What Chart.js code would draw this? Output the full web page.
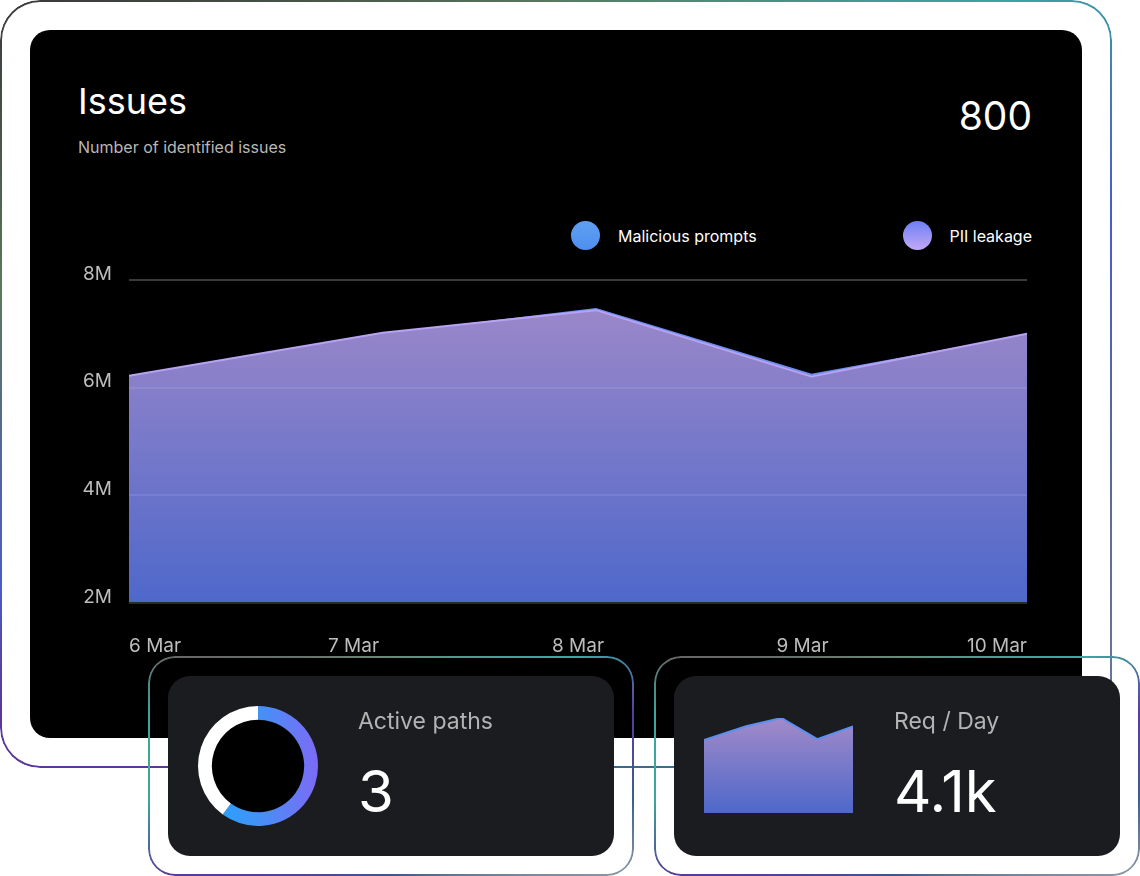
<!DOCTYPE html>
<html>
<head>
<meta charset="utf-8">
<script src="https://cdn.jsdelivr.net/npm/chart.js@4.4.1/dist/chart.umd.min.js"></script>
<style>
  html, body { margin: 0; padding: 0; background: #fff; }
  body { width: 1140px; height: 876px; position: relative; overflow: hidden; font-family: Inter, "Noto Sans", sans-serif; }
  .abs { position: absolute; }
  .gborder {
    position: absolute; box-sizing: border-box; border: 2px solid transparent;
    -webkit-mask: linear-gradient(#000 0 0) padding-box, linear-gradient(#000 0 0);
    -webkit-mask-composite: xor; mask-composite: exclude;
  }
  .frame {
    left: 0px; top: 0px; width: 1112px; height: 768px; border-radius: 40px;
    background: conic-gradient(from 0deg, #5a7a60 0deg, #3aa59e 50deg, #4a5cc8 72deg, #5a6a96 100deg,
      #6a7a94 125deg, #3a6a8a 170deg, #5a3a98 225deg, #5a3a98 240deg, #4a5cc8 250deg,
      #5a7a5a 280deg, #3a3a3a 305deg, #4a5a4a 330deg, #5a7a60 360deg) border-box;
  }
  .panel { left: 30px; top: 30px; width: 1052px; height: 708px; background: #000; border-radius: 20px; }
  .cardline {
    width: 486px; height: 220px; border-radius: 27px;
    background: conic-gradient(from 0deg, #6a8a78 0deg, #3aa8a0 60deg, #5a3aa0 78deg, #3a6090 98deg,
      #8a96a4 114deg, #3a5a8a 180deg, #5a3a98 244deg, #3aa89c 262deg, #3aa89c 282deg,
      #666 296deg, #6a8a78 360deg) border-box;
  }
  .card { width: 446px; height: 180px; background: #1b1c20; border-radius: 22px; }
  .title { left: 78px; top: 83px; font-size: 36px; line-height: 1; color: #fff; font-weight: 400; }
  .sub { left: 78px; top: 139px; font-size: 16px; line-height: 1; color: #b8b8b8; }
  .total { right: 108px; top: 96px; font-size: 39px; line-height: 1; color: #fff; }
  .dot { width: 29px; height: 29px; border-radius: 50%; }
  .legtxt { font-size: 16px; line-height: 1; color: #fff; top: 228px; }
  .klabel { font-size: 23px; line-height: 1; color: #b3b3b3; top: 710px; }
  .kvalue { font-size: 58px; line-height: 1; color: #fff; top: 762px; }
</style>
</head>
<body>
<div class="gborder frame"></div>
<div class="abs panel"></div>

<div class="abs title">Issues</div>
<div class="abs sub">Number of identified issues</div>
<div class="abs total">800</div>

<div class="abs dot" style="left:571px; top:221px; background:linear-gradient(#5ea0f2,#4f8ff0);"></div>
<div class="abs legtxt" style="left:618px;">Malicious prompts</div>
<div class="abs dot" style="left:903px; top:221px; background:linear-gradient(#6d7ff4,#c3a9f7);"></div>
<div class="abs legtxt" style="right:108px;">PII leakage</div>

<div class="abs" style="left:60px; top:255px; width:990px; height:410px;">
  <canvas id="issuesChart"></canvas>
</div>

<div class="gborder cardline" style="left:148px; top:656px;"></div>
<div class="gborder cardline" style="left:654px; top:656px;"></div>

<div class="abs card" style="left:168px; top:676px;"></div>
<div class="abs card" style="left:674px; top:676px;"></div>

<div class="abs" style="left:212px; top:720px; width:92px; height:92px; border-radius:50%; background:#000;"></div>
<div class="abs" style="left:198px; top:706px; width:120px; height:120px;">
  <canvas id="pathsChart"></canvas>
</div>
<div class="abs klabel" style="left:358px;">Active paths</div>
<div class="abs kvalue" style="left:358px;">3</div>

<div class="abs" style="left:702px; top:716px; width:153px; height:99px;">
  <canvas id="reqChart"></canvas>
</div>
<div class="abs klabel" style="left:894px;">Req / Day</div>
<div class="abs kvalue" style="left:894px;">4.1k</div>

<script>
// data (values in millions)
const dayLabels = ['6 Mar', '7 Mar', '8 Mar', '9 Mar', '10 Mar'];
const dayTicks = [6, 7, 8, 9, 10];
const sampleDays = [6, 7.13, 8.08, 9.04, 10];
const maliciousPrompts = [6.19, 6.99, 7.46, 6.24, 6.97];
const piiLeakage = [6.22, 7.02, 7.44, 6.21, 7.00];
const yTicks = [2, 4, 6, 8];
const activePaths = [3, 2]; // active / idle

const toPoints = (vals) => vals.map((v, i) => ({ x: sampleDays[i], y: v }));

function areaGradient(context) {
    const { ctx, chartArea } = context.chart;
    if (!chartArea) return 'rgba(120,120,200,0.8)';
    const g = ctx.createLinearGradient(0, chartArea.top, 0, chartArea.bottom);
    g.addColorStop(0, '#a28ac9');
    g.addColorStop(1, '#4e68ca');
    return g;
}

function ringColor(context) {
    if (context.dataIndex !== 0) return '#ffffff';
    const { ctx, chartArea } = context.chart;
    if (!chartArea) return '#4a90f5';
    const g = ctx.createLinearGradient(chartArea.left, 0, chartArea.right, 0);
    g.addColorStop(0, '#1ea8ff');
    g.addColorStop(0.5, '#4392f6');
    g.addColorStop(1, '#7d6af6');
    return g;
}

const tickFont = { family: 'Inter', size: 19 };

new Chart(document.getElementById('issuesChart'), {
    type: 'line',
    data: {
        datasets: [
            {
                label: 'PII leakage',
                data: toPoints(piiLeakage),
                borderColor: '#b7a2f4',
                borderWidth: 2,
                backgroundColor: areaGradient,
                fill: 'start',
                pointRadius: 0,
                tension: 0
            },
            {
                label: 'Malicious prompts',
                data: toPoints(maliciousPrompts),
                borderColor: '#6a8ff0',
                borderWidth: 2,
                fill: false,
                pointRadius: 0,
                tension: 0
            }
        ]
    },
    options: {
        responsive: true,
        maintainAspectRatio: false,
        animation: false,
        layout: { padding: { top: 25, right: 23, left: 0, bottom: 0 } },
        plugins: { legend: { display: false }, tooltip: { enabled: false } },
        scales: {
            x: {
                type: 'linear',
                min: 6,
                max: 10,
                afterBuildTicks: (s) => { s.ticks = dayTicks.map(v => ({ value: v })); },
                afterFit: (s) => { s.height = 62; s.paddingLeft = 0; s.paddingRight = 0; },
                grid: { display: false },
                border: { display: false },
                ticks: {
                    color: '#bdbdbd',
                    font: tickFont,
                    align: 'inner',
                    padding: 24,
                    maxRotation: 0,
                    autoSkip: false,
                    callback: (v) => dayLabels[dayTicks.indexOf(Math.round(v))]
                }
            },
            y: {
                min: 2,
                max: 8,
                afterBuildTicks: (s) => { s.ticks = yTicks.map(v => ({ value: v })); },
                afterFit: (s) => { s.width = 69; s.paddingTop = 0; s.paddingBottom = 0; },
                border: { display: false },
                grid: {
                    z: 1,
                    drawTicks: false,
                    lineWidth: 2,
                    color: (c) => c.tick.value === 8 ? '#3a3a3a' : c.tick.value === 2 ? '#2a2a2a' : 'rgba(255,255,255,0.09)'
                },
                ticks: {
                    color: '#bdbdbd',
                    font: tickFont,
                    padding: 17,
                    labelOffset: -6,
                    callback: (v) => v + 'M'
                }
            }
        }
    }
});

new Chart(document.getElementById('pathsChart'), {
    type: 'doughnut',
    data: {
        labels: ['Active', 'Idle'],
        datasets: [{
            data: activePaths,
            backgroundColor: ringColor,
            borderWidth: 0
        }]
    },
    options: {
        responsive: true,
        maintainAspectRatio: false,
        animation: false,
        cutout: '77%',
        plugins: { legend: { display: false }, tooltip: { enabled: false } }
    }
});

new Chart(document.getElementById('reqChart'), {
    type: 'line',
    data: {
        datasets: [{
            data: toPoints(maliciousPrompts),
            borderColor: '#5b8ff0',
            borderWidth: 2,
            backgroundColor: areaGradient,
            fill: 'start',
            pointRadius: 0,
            tension: 0
        }]
    },
    options: {
        responsive: true,
        maintainAspectRatio: false,
        animation: false,
        layout: { padding: 2 },
        plugins: { legend: { display: false }, tooltip: { enabled: false } },
        scales: {
            x: { type: 'linear', min: 6, max: 10, display: false },
            y: { min: 2, max: Math.max(...maliciousPrompts), display: false }
        }
    }
});
</script>
</body>
</html>
